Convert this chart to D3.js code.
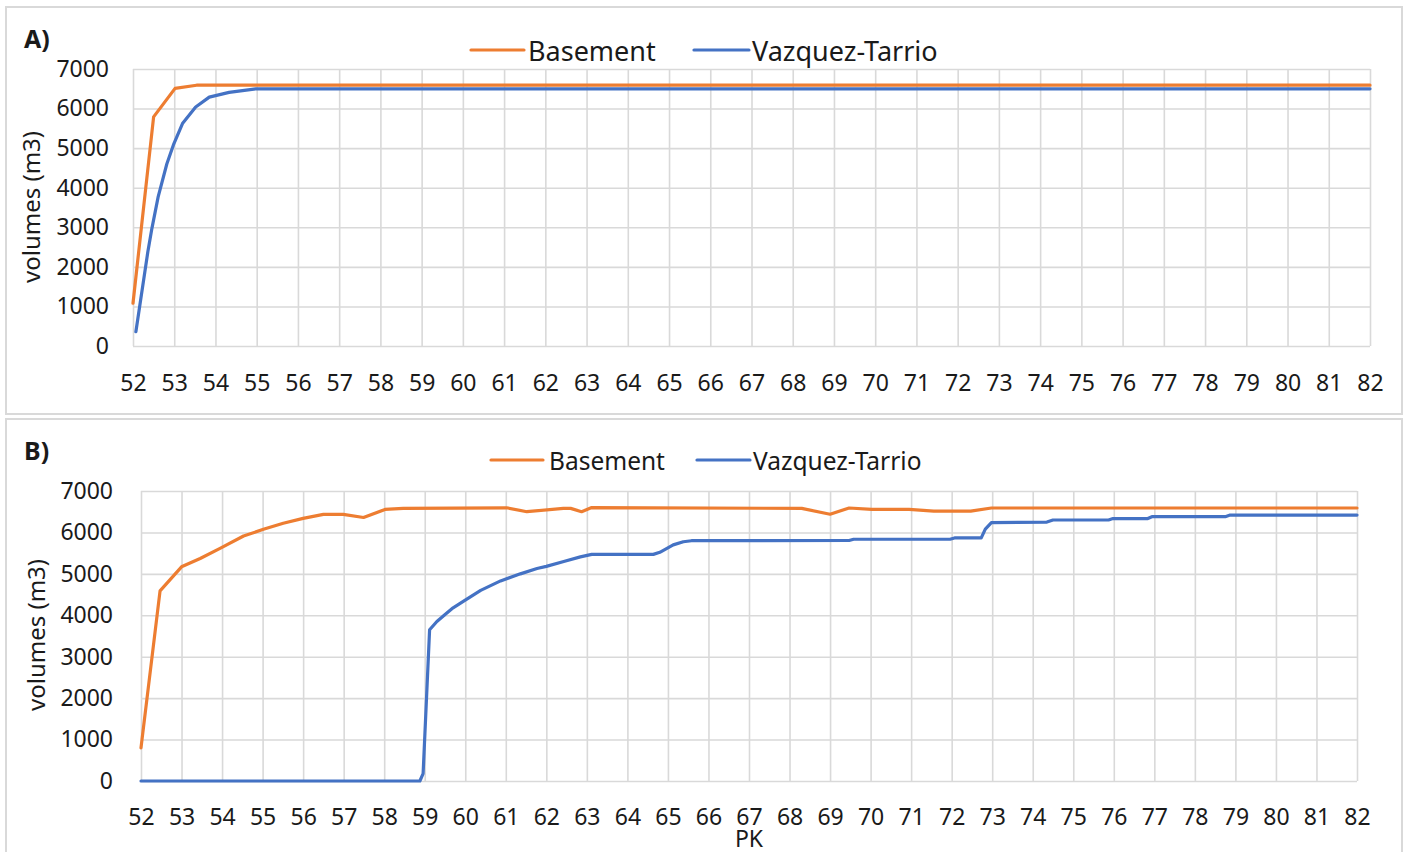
<!DOCTYPE html>
<html><head><meta charset="utf-8">
<script src="https://cdn.jsdelivr.net/npm/d3@7"></script>
<style>
body{margin:0;background:#fff}
svg{display:block}
text{font-family:'Noto Sans',sans-serif;fill:#1a1a1a}
</style></head>
<body><svg id="c" width="1410" height="852"></svg>
<script>
// ---------- data ----------
const pkTicks = [52,53,54,55,56,57,58,59,60,61,62,63,64,65,66,67,68,69,70,71,72,73,74,75,76,77,78,79,80,81,82];
const volTicks = [0,1000,2000,3000,4000,5000,6000,7000];
const seriesNames = ["Basement","Vazquez-Tarrio"];
const seriesColors = ["#ED7D31","#4472C4"];

// Panel A
const aBasementPK  = [52, 52.5, 53.02, 53.54, 82];
const aBasementVol = [1080, 5790, 6510, 6590, 6590];
const aVazquezPK   = [52.07, 52.36, 52.46, 52.61, 52.82, 52.98, 53.2, 53.52, 53.85, 54.33, 54.98, 82];
const aVazquezVol  = [360, 2380, 2980, 3770, 4600, 5080, 5620, 6040, 6290, 6410, 6500, 6500];

// Panel B
const bBasementPK  = [52, 52.47, 53.0, 53.46, 53.95, 54.53, 55.02, 55.51, 56.0, 56.5, 56.99, 57.49, 58.02, 58.47, 61.02, 61.52, 62.42, 62.6, 62.87, 63.12, 68.3, 69.0, 69.47, 70.03, 70.95, 71.56, 72.47, 72.98, 82];
const bBasementVol = [800, 4590, 5170, 5370, 5615, 5913, 6075, 6220, 6340, 6435, 6435, 6360, 6555, 6580, 6595, 6500, 6580, 6580, 6500, 6600, 6580, 6440, 6590, 6555, 6555, 6515, 6515, 6590, 6590];
const bVazquezPK   = [52, 58.88, 58.96, 59.12, 59.3, 59.48, 59.7, 59.97, 60.38, 60.87, 61.36, 61.77, 62.0, 62.43, 62.84, 63.12, 64.64, 64.8, 65.13, 65.38, 65.58, 69.47, 69.58, 71.96, 72.07, 72.73, 72.83, 72.98, 74.35, 74.5, 75.87, 75.98, 76.84, 76.94, 78.75, 78.87, 82];
const bVazquezVol  = [0, 0, 180, 3650, 3850, 4000, 4180, 4350, 4600, 4830, 5000, 5130, 5180, 5300, 5410, 5470, 5470, 5520, 5700, 5775, 5800, 5805, 5835, 5835, 5867, 5867, 6080, 6235, 6250, 6300, 6300, 6335, 6335, 6380, 6380, 6420, 6420];

// ---------- drawing ----------
const svg = d3.select("#c");
const zip = (p, v) => p.map((d, i) => ({pk: d, v: v[i]}));

function panel(cfg) {
  svg.append("rect").attr("x", cfg.frame[0]).attr("y", cfg.frame[1])
    .attr("width", cfg.frame[2]).attr("height", cfg.frame[3])
    .attr("fill", "#fff").attr("stroke", "#d9d9d9").attr("stroke-width", 2);

  const x = d3.scaleLinear().domain([52, 82]).range([cfg.left, cfg.right]);
  const y = d3.scaleLinear().domain([0, 7000]).range([cfg.bottom, cfg.top]);
  const w = cfg.right - cfg.left, h = cfg.bottom - cfg.top;

  const gx = svg.append("g").attr("transform", `translate(0,${cfg.bottom})`)
    .call(d3.axisBottom(x).tickValues(pkTicks).tickSize(-h).tickPadding(cfg.xPad).tickFormat(d3.format("d")));
  const gy = svg.append("g").attr("transform", `translate(${cfg.left},0)`)
    .call(d3.axisLeft(y).tickValues(volTicks).tickSize(-w).tickPadding(cfg.yPad).tickFormat(d3.format("d")));
  [gx, gy].forEach(g => {
    g.select(".domain").remove();
    g.selectAll(".tick line").attr("stroke", "#d9d9d9").attr("stroke-width", 1.6);
    g.selectAll(".tick text").attr("font-size", cfg.tickSize).attr("fill", "#1a1a1a")
      .style("font-family", "'Noto Sans',sans-serif");
  });
  gx.selectAll(".tick text").attr("dy", "0.71em");

  const line = d3.line().x(d => x(d.pk)).y(d => y(d.v));
  cfg.series.forEach((s, i) => {
    svg.append("path").datum(s).attr("d", line).attr("fill", "none")
      .attr("stroke", seriesColors[i]).attr("stroke-width", 3.2)
      .attr("stroke-linejoin", "round").attr("stroke-linecap", "round");
  });

  svg.append("text").attr("transform", `translate(${cfg.yTitle[0]},${cfg.yTitle[1]}) rotate(-90)`)
    .attr("text-anchor", "middle").attr("dominant-baseline", "central")
    .attr("font-size", cfg.yTitleSize).text("volumes (m3)");

  svg.append("text").attr("x", cfg.letter[0]).attr("y", cfg.letter[1])
    .attr("dominant-baseline", "central").attr("font-weight", "bold")
    .attr("font-size", 25).text(cfg.letterText);

  cfg.legend.forEach((L, i) => {
    svg.append("line").attr("x1", L[0]).attr("x2", L[1]).attr("y1", cfg.legendY).attr("y2", cfg.legendY)
      .attr("stroke", seriesColors[i]).attr("stroke-width", 3.2).attr("stroke-linecap", "round");
    svg.append("text").attr("x", L[2]).attr("y", cfg.legendY).attr("dominant-baseline", "central")
      .attr("font-size", cfg.legendSize).text(seriesNames[i]);
  });
}

panel({
  frame: [6, 7, 1396, 407],
  left: 133, right: 1370, top: 69, bottom: 346,
  xPad: 29, yPad: 24, tickSize: 23,
  yTitle: [30, 207], yTitleSize: 24,
  letter: [24, 38], letterText: "A)",
  legendY: 50, legendSize: 27,
  legend: [[471, 524, 528], [694, 749, 752]],
  series: [zip(aBasementPK, aBasementVol), zip(aVazquezPK, aVazquezVol)]
});

panel({
  frame: [6, 419, 1396, 440],
  left: 141, right: 1357, top: 491, bottom: 781,
  xPad: 28, yPad: 28, tickSize: 23,
  yTitle: [35, 635], yTitleSize: 24,
  letter: [24, 450], letterText: "B)",
  legendY: 460, legendSize: 24.5,
  legend: [[491, 543, 549], [697, 750, 753]],
  series: [zip(bBasementPK, bBasementVol), zip(bVazquezPK, bVazquezVol)]
});

svg.append("text").attr("x", 749).attr("y", 838).attr("text-anchor", "middle")
  .attr("dominant-baseline", "central").attr("font-size", 23).text("PK");
</script></body></html>
